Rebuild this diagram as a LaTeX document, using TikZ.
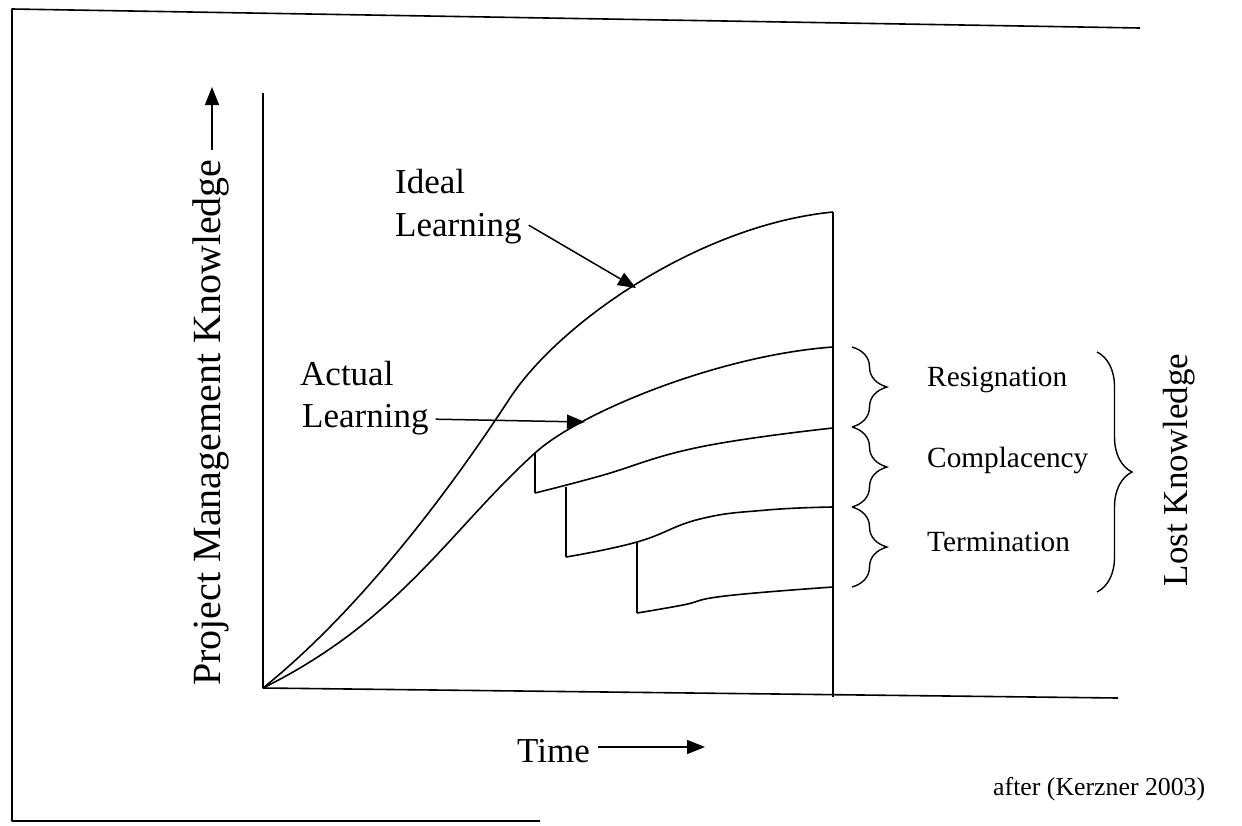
\documentclass[tikz,border=0pt]{standalone}
\usepackage{fontspec}
\setmainfont{Liberation Serif}
\usetikzlibrary{arrows.meta,decorations.pathreplacing}
\begin{document}
\begin{tikzpicture}[x=1pt,y=-1pt,
  line/.style={line width=1.6pt, line join=round},
  arr/.style={line width=1.5pt, -{Triangle[length=18pt,width=14pt]}},
  brc/.style={line width=1.4pt, decorate, decoration={brace, amplitude=35pt}},
  big/.style={font=\fontsize{35}{42}\selectfont, inner sep=0pt},
  ylab/.style={font=\fontsize{40}{48}\selectfont, inner sep=0pt},
  mid/.style={font=\fontsize{29.3}{35}\selectfont, inner sep=0pt},
  small/.style={font=\fontsize{25.8}{30}\selectfont, inner sep=0pt}]
\useasboundingbox (0,0) rectangle (1242,825);
% frame
\draw[line] (1140,28) -- (12,9) -- (12,821) -- (540,821);
% axes
\coordinate (O) at (263,688);
\coordinate (ytop) at (263,93);
\coordinate (xend) at (1118,698);
\draw[line] (ytop) -- (O) -- (xend);
\coordinate (vtop) at (833,212);
\coordinate (vbot) at (833,697);
\draw[line] (vtop) -- (vbot);
% ideal curve
\coordinate (I1) at (510,398);
\draw[line] (O) .. controls (360,610) and (450,490) .. (I1)
                .. controls (560,322) and (700,225) .. (vtop);
% actual curve
\coordinate (A1) at (535,453);
\coordinate (A2) at (833,347);
\draw[line] (O) .. controls (400,620) and (450,530) .. (A1)
                .. controls (580,412) and (720,355) .. (A2);
% step 1
\draw[line] (A1) -- (535,493);
\draw[line] plot[smooth, tension=0.75] coordinates {(535,493) (600,476) (700,447) (833,428)};
% step 2
\draw[line] (566,487) -- (566,557);
\draw[line] plot[smooth, tension=0.75] coordinates {(566,557) (637,542) (700,519) (767,510) (833,507)};
% step 3
\draw[line] (637,542) -- (637,613);
\draw[line] plot[smooth, tension=0.75] coordinates {(637,613) (683,605) (725,596) (833,587)};
% labels
\node[big, anchor=base west] (idealA) at (395,193) {Ideal};
\node[big, anchor=base west] (idealB) at (395,236) {Learning};
\coordinate (tipI) at (636,288);
\draw[arr] ([xshift=7pt,yshift=3pt]idealB.east) -- (tipI);
\node[big, anchor=base west] (actA) at (300,385) {Actual};
\node[big, anchor=base west] (actB) at (302,427) {Learning};
\coordinate (tipA) at (585,422);
\draw[arr] ([xshift=7pt]actB.east) -- (tipA);
% y label
\node[ylab, rotate=90, anchor=base west] (ylab) at (220,686) {Project Management Knowledge};
\coordinate (yarrB) at (212,150);
\coordinate (yarrT) at (212,87);
\draw[arr] (yarrB) -- (yarrT);
% x label
\node[big, anchor=base west] (time) at (517,762) {Time};
\coordinate (tarr) at (705,747);
\draw[arr] (time.east |- tarr) ++(8,0) -- (tarr);
% braces
\draw[brc] (852,347) -- (852,427);
\draw[brc] (852,427) -- (852,507);
\draw[brc] (852,507) -- (852,587);
\draw[brc] (1097,352) -- (1097,592);
\node[mid, anchor=base west] (res) at (927,386) {Resignation};
\node[mid, anchor=base west] (com) at (927,467) {Complacency};
\node[mid, anchor=base west] (ter) at (927,551) {Termination};
\node[big, rotate=90, anchor=base] (lost) at (1187,470) {Lost Knowledge};
\node[small, anchor=base west] (src) at (993,795) {after (Kerzner 2003)};
\end{tikzpicture}
\end{document}
